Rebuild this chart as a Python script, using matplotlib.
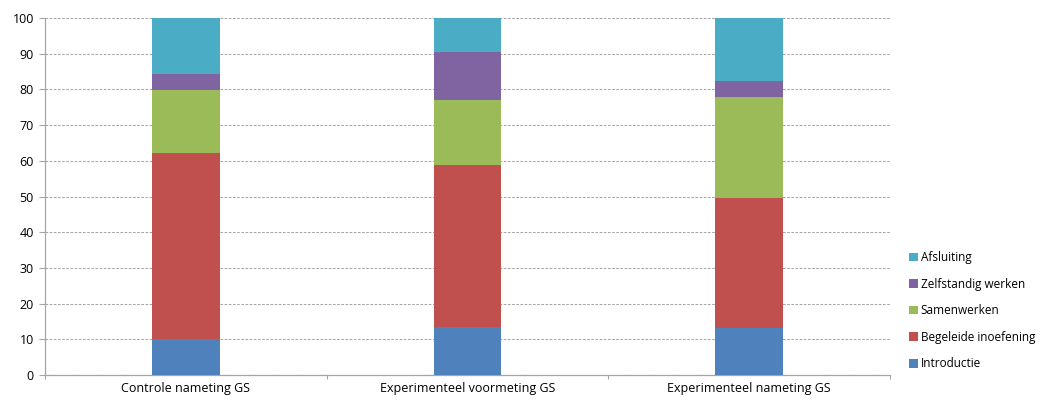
import numpy as np
import matplotlib.pyplot as plt

groups = ["Controle nameting GS", "Experimenteel voormeting GS", "Experimenteel nameting GS"]
phases = ["Introductie", "Begeleide inoefening", "Samenwerken", "Zelfstandig werken", "Afsluiting"]
introductie = [10.2, 13.4, 13.3]
begeleide = [51.9, 45.4, 36.4]
samenwerken = [17.7, 18.3, 28.2]
zelfstandig = [4.5, 13.3, 4.5]
afsluiting = [15.7, 9.6, 17.6]
colors = ["#4F81BD", "#C0504D", "#9BBB59", "#8064A2", "#4BACC6"]

plt.rcParams["font.family"] = ["Open Sans", "DejaVu Sans"]
plt.rcParams["font.size"] = 9

fig = plt.figure(figsize=(10.46, 4.0), dpi=100)
ax = fig.add_axes([0.043, 0.0625, 0.808, 0.8925])

x = np.arange(len(groups))
bottom = np.zeros(len(groups))
handles = []
for name, vals, c in zip(phases, [introductie, begeleide, samenwerken, zelfstandig, afsluiting], colors):
    h = ax.bar(x, vals, width=0.24, bottom=bottom, color=c, label=name, zorder=3)
    handles.append(h)
    bottom += np.array(vals)

ax.set_xlim(-0.5, len(groups) - 0.5)
ax.set_ylim(0, 100)
ax.set_yticks(range(0, 101, 10))
ax.yaxis.grid(True, linestyle=(0, (2.5, 1.5)), color="#a6a6a6", linewidth=0.75, zorder=0)

ax.set_xticks(x)
ax.set_xticklabels(groups)
ax.set_xticks(np.arange(-0.5, len(groups)), minor=True)
ax.tick_params(axis="x", which="major", length=0, pad=5)
ax.tick_params(axis="x", which="minor", length=3, color="#a6a6a6", width=0.8)
ax.tick_params(axis="y", length=4, color="#a6a6a6", width=0.8, pad=4)

for side in ["top", "right"]:
    ax.spines[side].set_visible(False)
for side in ["left", "bottom"]:
    ax.spines[side].set_color("#a6a6a6")
    ax.spines[side].set_linewidth(0.9)

ax.legend(handles[::-1], phases[::-1], loc="center left", bbox_to_anchor=(1.0, 0.18),
          frameon=False, fontsize=8.5, handlelength=0.75, handleheight=0.75,
          handletextpad=0.25, labelspacing=1.15, borderaxespad=1.2)

fig.savefig("out.png", dpi=100)
